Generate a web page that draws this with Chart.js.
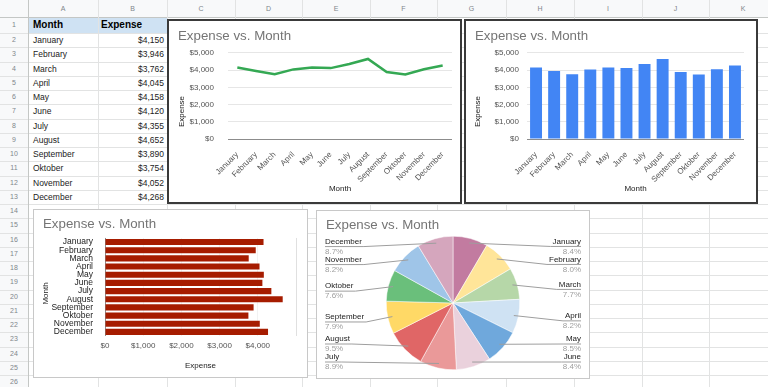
<!DOCTYPE html>
<html>
<head>
<meta charset="utf-8">
<script src="https://cdn.jsdelivr.net/npm/chart.js@4"></script>
<style>
  html, body { margin: 0; padding: 0; }
  body { width: 768px; height: 387px; overflow: hidden; background: #fff; position: relative;
         font-family: "Liberation Sans", Arial, sans-serif; }
  #sheet div { position: absolute; white-space: nowrap; }
  .ln { background: #e2e3e3; }
  .hdr { background: #f8f9fa; }
  .box { position: absolute; background: #fff; box-sizing: border-box; z-index: 2; }
  .box canvas { display: block; }
</style>
</head>
<body>
<div id="sheet"></div>
<div class="box" style="left:167px;top:19px;width:295px;height:185px;border:2px solid #3a3a3a"><canvas id="lineChart" width="291" height="181"></canvas></div>
<div class="box" style="left:464px;top:19px;width:294px;height:185px;border:2px solid #3a3a3a"><canvas id="barChart" width="290" height="181"></canvas></div>
<div class="box" style="left:33px;top:209px;width:275px;height:169px;border:1px solid #c8c8c8"><canvas id="hbarChart" width="273" height="167"></canvas></div>
<div class="box" style="left:316px;top:210px;width:274px;height:169px;border:1px solid #c8c8c8"><canvas id="pieChart" width="272" height="167"></canvas></div>
<script>
// ---- data ----
const months = ["January", "February", "March", "April", "May", "June", "July",
                "August", "September", "Oktober", "November", "December"];
const expenses = [4150, 3946, 3762, 4045, 4158, 4120, 4355, 4652, 3890, 3754, 4052, 4268];
const valueTicks = [0, 1000, 2000, 3000, 4000, 5000];
const pieColors = ["#c27ba0", "#ffe599", "#b6d7a8", "#cfe2f3", "#6fa8dc", "#ead1dc",
                   "#ea9999", "#e06666", "#ffd966", "#6abf7b", "#9fc5e8", "#d5a6bd"];
const colLetters = ["A", "B", "C", "D", "E", "F", "G", "H", "I", "J", "K"];

const FONT = '"Liberation Sans", Arial, sans-serif';
const money = (v) => "$" + Number(v).toLocaleString("en-US");

// ---- spreadsheet background ----
const colEdges = [0, 28, 98, 167, 235, 302, 370, 437, 506, 574, 642, 709, 777];
const rowEdges = [0, 17, 33];
for (let i = 1; i <= 25; i++) rowEdges.push(33 + i * 14.25);

const sheet = document.getElementById("sheet");
function add(cls, style, text) {
  const d = document.createElement("div");
  if (cls) d.className = cls;
  Object.assign(d.style, style);
  if (text != null) d.textContent = text;
  sheet.appendChild(d);
  return d;
}

add("hdr", { left: "0px", top: "0px", width: "768px", height: "17px" });
add("hdr", { left: "0px", top: "0px", width: "28px", height: "387px" });
add("", { left: "28px", top: "17px", width: "139px", height: "16px", background: "#cfe2f3" });

rowEdges.slice(1).forEach((y, i) =>
  add("ln", { left: "0px", top: Math.round(y) + "px", width: "768px", height: "1px",
              background: i === 0 ? "#c4c7c5" : "#e2e3e3" }));
colEdges.slice(1).forEach((x, i) =>
  add("ln", { left: x + "px", top: "0px", width: "1px", height: "387px",
              background: i === 0 ? "#c4c7c5" : "#e2e3e3" }));

colLetters.forEach((c, i) =>
  add("", { left: colEdges[i + 1] + "px", top: "0px", width: (colEdges[i + 2] - colEdges[i + 1]) + "px",
            height: "17px", lineHeight: "17px", textAlign: "center", fontSize: "7px", color: "#80868b" }, c));

for (let r = 1; r < rowEdges.length - 1; r++) {
  const top = rowEdges[r], h = rowEdges[r + 1] - rowEdges[r];
  add("", { left: "0px", top: top + "px", width: "28px", height: h + "px", lineHeight: h + "px",
            textAlign: "center", fontSize: "7px", color: "#80868b" }, String(r));
}

// table cells
function cell(r, text, opts) {
  const top = rowEdges[r], h = rowEdges[r + 1] - rowEdges[r];
  add("", Object.assign({ top: top + "px", height: h + "px", lineHeight: h + "px",
                          fontSize: "8.5px", color: "#222" }, opts), text);
}
cell(1, "Month", { left: "33px", fontSize: "10px", fontWeight: "bold", color: "#000" });
cell(1, "Expense", { left: "101px", fontSize: "10px", fontWeight: "bold", color: "#000" });
months.forEach((m, i) => {
  cell(i + 2, m, { left: "33px" });
  cell(i + 2, money(expenses[i]), { left: "98px", width: "66px", textAlign: "right" });
});

// ---- charts ----
Chart.defaults.font.family = FONT;
Chart.defaults.animation = false;

function titleOpts(top, bottom) {
  return { display: true, text: "Expense vs. Month", align: "start", color: "#757575",
           font: { family: FONT, size: 13.3, weight: "normal" }, padding: { top: top, bottom: bottom } };
}

// rotated axis title centred on the whole chart height (like Sheets does)
const sideTitle = {
  id: "sideTitle",
  afterDraw(chart, args, opts) {
    if (!opts || !opts.text) return;
    const ctx = chart.ctx;
    ctx.save();
    ctx.translate(opts.x, chart.height / 2);
    ctx.rotate(-Math.PI / 2);
    ctx.font = "8px " + FONT;
    ctx.fillStyle = "#222";
    ctx.textAlign = "center";
    ctx.textBaseline = "middle";
    ctx.fillText(opts.text, 0, 0);
    ctx.restore();
  }
};

const gridColor = (c) => (c.tick && c.tick.value === 0 ? "#8c8c8c" : "#e6e6e6");
const setValueTicks = (s) => { s.ticks = valueTicks.map((v) => ({ value: v })); };

function columnScales(yWidth, yPad) {
  return {
    x: {
      grid: { display: false }, border: { display: false },
      ticks: { autoSkip: false, maxRotation: 45, minRotation: 45, padding: 3, color: "#555", font: { size: 8 } },
      title: { display: true, text: "Month", color: "#222", font: { size: 8 }, padding: { top: 0, bottom: 8 } },
      afterFit: (s) => { s.height = 63; }
    },
    y: {
      min: 0, max: 5000, border: { display: false },
      grid: { drawTicks: false, color: gridColor },
      ticks: { padding: yPad, color: "#555", font: { size: 8 }, callback: money },
      afterBuildTicks: setValueTicks,
      afterFit: (s) => { s.width = yWidth; }
    }
  };
}

// line chart
const lineScales = columnScales(50, 14);
lineScales.x.offset = true;
new Chart(document.getElementById("lineChart"), {
  type: "line",
  data: { labels: months, datasets: [{ data: expenses, borderColor: "#34a853", borderWidth: 2.5,
                                       pointRadius: 0, tension: 0, fill: false }] },
  options: {
    responsive: false, events: [],
    layout: { padding: { left: 9, right: 8, top: 0, bottom: 0 } },
    plugins: { legend: { display: false }, tooltip: { enabled: false },
               title: titleOpts(7, 9), sideTitle: { text: "Expense", x: 13 } },
    scales: lineScales
  },
  plugins: [sideTitle]
});

// column chart
new Chart(document.getElementById("barChart"), {
  type: "bar",
  data: { labels: months, datasets: [{ data: expenses, backgroundColor: "#4285f4",
                                       barPercentage: 0.66, categoryPercentage: 1 }] },
  options: {
    responsive: false, events: [],
    layout: { padding: { left: 9, right: 12, top: 0, bottom: 0 } },
    plugins: { legend: { display: false }, tooltip: { enabled: false },
               title: titleOpts(7, 9), sideTitle: { text: "Expense", x: 12 } },
    scales: columnScales(52, 8)
  },
  plugins: [sideTitle]
});

// horizontal bar chart
const maxTick = valueTicks[valueTicks.length - 1];
new Chart(document.getElementById("hbarChart"), {
  type: "bar",
  data: { labels: months, datasets: [{ data: expenses, backgroundColor: "#a61c00",
                                       barPercentage: 0.75, categoryPercentage: 1 }] },
  options: {
    responsive: false, events: [], indexAxis: "y",
    layout: { padding: { left: 9, right: 11, top: 0, bottom: 0 } },
    plugins: { legend: { display: false }, tooltip: { enabled: false },
               title: titleOpts(6, 6), sideTitle: { text: "Month", x: 12 } },
    scales: {
      x: {
        min: 0, max: maxTick, border: { display: false },
        grid: { drawTicks: false,
                color: (c) => (c.tick.value === 0 ? "#8c8c8c" : c.tick.value === maxTick ? "#e0e0e0" : "#f2f2f2") },
        ticks: { padding: 5, color: "#555", font: { size: 8 },
                 callback: (v) => (v === maxTick ? "" : money(v)) },
        afterBuildTicks: setValueTicks,
        title: { display: true, text: "Expense", color: "#222", font: { size: 8 }, padding: { top: 0, bottom: 6 } },
        afterFit: (s) => { s.height = 41; }
      },
      y: {
        grid: { display: false }, border: { display: false },
        ticks: { autoSkip: false, padding: 4, color: "#222", font: { size: 8.5 } },
        afterFit: (s) => { s.width = 62; }
      }
    }
  },
  plugins: [sideTitle]
});

// pie labels with leader lines
const pieLabels = {
  id: "pieLabels",
  afterDatasetsDraw(chart) {
    const ctx = chart.ctx;
    const arcs = chart.getDatasetMeta(0).data;
    const total = expenses.reduce((a, b) => a + b, 0);
    const sides = { left: [], right: [] };
    arcs.forEach((arc, i) => {
      const mid = (arc.startAngle + arc.endAngle) / 2;
      const item = { i, mid, arc, y: arc.y + Math.sin(mid) * arc.outerRadius * 0.955 };
      (Math.cos(mid) >= 0 ? sides.right : sides.left).push(item);
    });
    const maxY = chart.height - 21;
    Object.keys(sides).forEach((key) => {
      const list = sides[key].sort((a, b) => a.y - b.y);
      for (let k = 1; k < list.length; k++) list[k].y = Math.max(list[k].y, list[k - 1].y + 18);
      for (let k = list.length - 1; k >= 0; k--) {
        const lim = k === list.length - 1 ? maxY : list[k + 1].y - 18;
        list[k].y = Math.min(list[k].y, lim);
      }
      const isRight = key === "right";
      const tx = isRight ? chart.width - 8 : 8;
      list.forEach((it) => {
        const a = it.arc;
        const r = a.outerRadius * 0.93;
        const sx = a.x + Math.cos(it.mid) * r, sy = a.y + Math.sin(it.mid) * r;
        ctx.save();
        ctx.font = "8px " + FONT;
        const w = ctx.measureText(months[it.i]).width;
        const ly = it.y + 5;
        const edge = isRight ? tx - w - 2 : tx + w + 2;
        ctx.strokeStyle = "#9e9e9e";
        ctx.lineWidth = 1;
        ctx.beginPath();
        ctx.moveTo(sx, sy);
        ctx.lineTo(edge, ly);
        ctx.lineTo(tx, ly);
        ctx.stroke();
        ctx.textAlign = isRight ? "right" : "left";
        ctx.textBaseline = "middle";
        ctx.fillStyle = "#222";
        ctx.fillText(months[it.i], tx, it.y);
        ctx.fillStyle = "#9e9e9e";
        ctx.fillText((expenses[it.i] / total * 100).toFixed(1) + "%", tx, it.y + 10);
        ctx.restore();
      });
    });
  }
};

new Chart(document.getElementById("pieChart"), {
  type: "pie",
  data: { labels: months, datasets: [{ data: expenses, backgroundColor: pieColors,
                                       borderColor: "#fff", borderWidth: 0.5 }] },
  options: {
    responsive: false, events: [],
    layout: { padding: { left: 9, right: 9, top: 0, bottom: 8 } },
    plugins: { legend: { display: false }, tooltip: { enabled: false }, title: titleOpts(6, 3) }
  },
  plugins: [pieLabels]
});
</script>
</body>
</html>
